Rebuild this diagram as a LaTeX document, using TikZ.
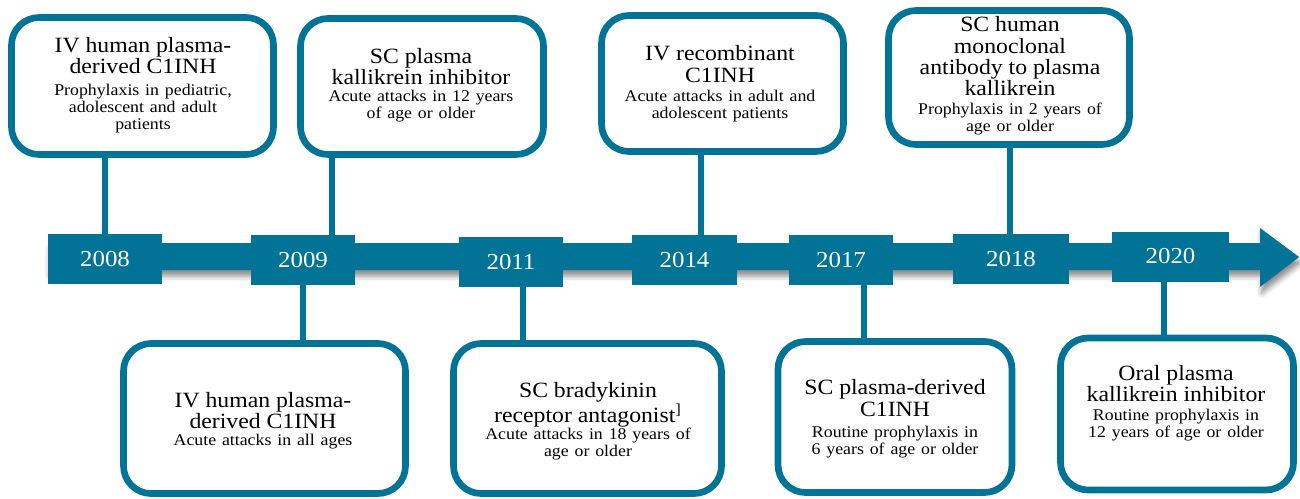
\documentclass[tikz,border=0pt]{standalone}
\usepackage{fontspec}
\setmainfont[FakeStretch=1.09, WordSpace=0.8]{Liberation Serif}
\usetikzlibrary{shadows.blur}
\definecolor{tealline}{RGB}{0,115,150}
\newcommand\cardtitle[1]{{\fontsize{12.4}{12.1}\selectfont #1\par}}
\newcommand\cardnote[1]{{\fontsize{9.3}{9.7}\selectfont #1\par}}

\begin{document}
\begin{tikzpicture}[x=0.02cm,y=-0.02cm,
  card/.style={draw=tealline, line width=3.8pt, fill=white, rounded corners=0.55cm, inner sep=0pt},
  cardtext/.style={align=center, inner sep=0pt, text width=#1},
  yearbox/.style={fill=tealline, inner sep=0pt, minimum height=1cm, text=white,
                  font=\fontsize{13}{13}\selectfont},
  link/.style={draw=tealline, line width=3.4pt}]

\useasboundingbox (0,0) rectangle (1300,498);

% timeline bar with arrow head
\fill[tealline, blur shadow={shadow xshift=1pt, shadow yshift=-3.5pt, shadow blur radius=3pt, shadow opacity=45}]
  (48,243) -- (1260,243) -- (1260,228) -- (1299,257) -- (1260,287) -- (1260,270) -- (48,270) -- cycle;

% year markers
\node[yearbox, minimum width=2.28cm] (y2008) at (105,259)   {2008};
\node[yearbox, minimum width=2.08cm] (y2009) at (303,260)   {2009};
\node[yearbox, minimum width=2.08cm] (y2011) at (511,262)   {2011};
\node[yearbox, minimum width=2.10cm] (y2014) at (684.5,260) {2014};
\node[yearbox, minimum width=2.08cm] (y2017) at (841,260)   {2017};
\node[yearbox, minimum width=2.32cm] (y2018) at (1011,259)  {2018};
\node[yearbox, minimum width=2.34cm] (y2020) at (1170.5,256.5) {2020};

% cards above the line
\node[card, minimum width=5.24cm, minimum height=2.74cm] (boxA) at (142.5,86) {};
\node[card, minimum width=4.86cm, minimum height=2.72cm] (boxB) at (422,86.5) {};
\node[card, minimum width=4.84cm, minimum height=2.72cm] (boxC) at (722.5,83.5) {};
\node[card, minimum width=4.82cm, minimum height=2.68cm] (boxD) at (1009,77.5) {};

% cards below the line
\node[card, minimum width=5.64cm, minimum height=3.00cm] (boxE) at (264.5,418.5) {};
\node[card, minimum width=5.36cm, minimum height=3.00cm] (boxF) at (587.5,418.5) {};
\node[card, minimum width=4.68cm, minimum height=3.02cm] (boxG) at (895,417) {};
\node[card, minimum width=4.66cm, minimum height=3.04cm] (boxH) at (1177,414) {};

% card texts
\node[cardtext=5.0cm] (txtA) at (143,85) {\cardtitle{IV human plasma-\\derived C1INH}\vspace{2.5pt}%
  \cardnote{Prophylaxis in pediatric,\\adolescent and adult\\patients}};
\node[cardtext=4.6cm] (txtB) at (421,85) {\cardtitle{SC plasma\\kallikrein inhibitor}\vspace{0pt}%
  \cardnote{Acute attacks in 12 years\\of age or older}};
\node[cardtext=4.6cm] (txtC) at (720,84) {\cardtitle{IV recombinant\\C1INH}\vspace{1.5pt}%
  \cardnote{Acute attacks in adult and\\adolescent patients}};
\node[cardtext=4.6cm] (txtD) at (1010,76) {\cardtitle{SC human\\monoclonal\\antibody to plasma\\kallikrein}\vspace{1pt}%
  \cardnote{Prophylaxis in 2 years of\\age or older}};
\node[cardtext=5.3cm] (txtE) at (263,421) {\cardtitle{IV human plasma-\\derived C1INH}\vspace{0pt}%
  \cardnote{Acute attacks in all ages}};
\node[cardtext=5.1cm] (txtF) at (588,421) {\cardtitle{SC bradykinin\\receptor antagonist\textsuperscript{]}}\vspace{0pt}%
  \cardnote{Acute attacks in 18 years of\\age or older}};
\node[cardtext=4.5cm] (txtG) at (895,419) {\cardtitle{SC plasma-derived\\C1INH}\vspace{2.5pt}%
  \cardnote{Routine prophylaxis in\\6 years of age or older}};
\node[cardtext=4.5cm] (txtH) at (1176,403) {\cardtitle{Oral plasma\\kallikrein inhibitor}\vspace{1pt}%
  \cardnote{Routine prophylaxis in\\12 years of age or older}};

% connector columns
\coordinate (xA) at (105,0);
\coordinate (xB) at (332,0);
\coordinate (xC) at (701,0);
\coordinate (xD) at (1010,0);
\coordinate (xE) at (303,0);
\coordinate (xF) at (523,0);
\coordinate (xG) at (864,0);
\coordinate (xH) at (1164,0);

\draw[link] (boxA.south -| xA) -- (y2008.north -| xA);
\draw[link] (boxB.south -| xB) -- (y2009.north -| xB);
\draw[link] (boxC.south -| xC) -- (y2014.north -| xC);
\draw[link] (boxD.south -| xD) -- (y2018.north -| xD);
\draw[link] (y2009.south -| xE) -- (boxE.north -| xE);
\draw[link] (y2011.south -| xF) -- (boxF.north -| xF);
\draw[link] (y2017.south -| xG) -- (boxG.north -| xG);
\draw[link] (y2020.south -| xH) -- (boxH.north -| xH);

\end{tikzpicture}
\end{document}
